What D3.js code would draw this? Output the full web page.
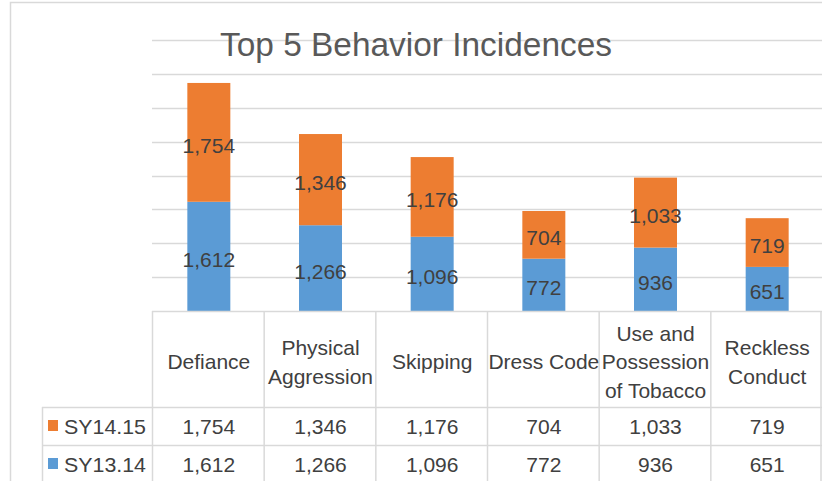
<!DOCTYPE html>
<html><head><meta charset="utf-8">
<script src="https://cdn.jsdelivr.net/npm/d3@7"></script>
<style>body{margin:0;background:#fff}svg{display:block}text{font-family:"Liberation Sans",Arial,sans-serif}</style>
</head><body>
<svg id="c" width="822" height="481"></svg>
<script>
const categoryLines = [["Defiance"],["Physical","Aggression"],["Skipping"],["Dress Code"],["Use and","Possession","of Tobacco"],["Reckless","Conduct"]];
const categories = categoryLines.map(l => l.join(" "));
const seriesNames = ["SY14.15","SY13.14"];
const sy1415 = [1754,1346,1176,704,1033,719];
const sy1314 = [1612,1266,1096,772,936,651];
const yTicks = [500,1000,1500,2000,2500,3000,3500,4000];
const colors = {"SY14.15":"#ED7D31","SY13.14":"#5B9BD5"};
const title = "Top 5 Behavior Incidences";

const svg = d3.select("#c");
const W = 822, H = 481;
const plot = {left:152, right:822, top:40, bottom:311};
const grid = "#d9d9d9", txt = "#404040";
const fmt = d3.format(",");

// outer border
svg.append("path").attr("d",`M10.5,${H} V2.5 H${W}`).attr("fill","none").attr("stroke",grid).attr("stroke-width",1.5);

const x = d3.scaleBand().domain(categories).range([plot.left, plot.right]).padding(0);
const y = d3.scaleLinear().domain([0,4000]).range([plot.bottom, plot.top]);

// gridlines
svg.append("g").selectAll("line").data(yTicks).join("line")
  .attr("x1",plot.left).attr("x2",plot.right)
  .attr("y1",d=>Math.round(y(d))+0.5).attr("y2",d=>Math.round(y(d))+0.5)
  .attr("stroke",grid).attr("stroke-width",1.5);

// title
svg.append("text").attr("x",416).attr("y",56).attr("text-anchor","middle")
  .attr("font-size",33).attr("fill","#595959").attr("textLength",392).attr("lengthAdjust","spacingAndGlyphs").text(title);

// stacked bars
const rows = categories.map((c,i)=>({cat:c, "SY13.14":sy1314[i], "SY14.15":sy1415[i]}));
const stack = d3.stack().keys(["SY13.14","SY14.15"])(rows);
const bw = x.bandwidth()*0.385;
const gBars = svg.append("g");
stack.forEach(layer=>{
  gBars.append("g").attr("fill",colors[layer.key]).selectAll("rect").data(layer).join("rect")
    .attr("x",d=>x(d.data.cat)+x.bandwidth()/2-bw/2+1)
    .attr("width",bw)
    .attr("y",d=>y(d[1]))
    .attr("height",d=>y(d[0])-y(d[1]));
  gBars.append("g").selectAll("text").data(layer).join("text")
    .attr("x",d=>x(d.data.cat)+x.bandwidth()/2+1)
    .attr("y",d=>(y(d[0])+y(d[1]))/2)
    .attr("dy","0.5em")
    .attr("text-anchor","middle").attr("font-size",21).attr("fill",txt)
    .text(d=>fmt(d.data[layer.key]));
});

// axis baseline
svg.append("line").attr("x1",plot.left).attr("x2",plot.right).attr("y1",plot.bottom+0.5).attr("y2",plot.bottom+0.5).attr("stroke",grid).attr("stroke-width",1.5);

// data table
const rowTop1 = 407, rowTop2 = 445, rowH = 38;
const tbl = svg.append("g");
const vx = categories.map(c=>x(c)).concat([plot.right-1.5]);
tbl.selectAll("line.v").data(vx).join("line").attr("class","v")
  .attr("x1",d=>d+0.5).attr("x2",d=>d+0.5).attr("y1",plot.bottom).attr("y2",H)
  .attr("stroke",grid).attr("stroke-width",1.5);
tbl.append("line").attr("x1",42.5).attr("x2",42.5).attr("y1",rowTop1).attr("y2",H).attr("stroke",grid).attr("stroke-width",1.5);
[rowTop1,rowTop2].forEach(yy=>{
  tbl.append("line").attr("x1",42).attr("x2",plot.right).attr("y1",yy+0.5).attr("y2",yy+0.5).attr("stroke",grid).attr("stroke-width",1.5);
});

// header
const headerCy = 361, lh = 28.8;
categoryLines.forEach((lines,i)=>{
  const cx = x(categories[i])+x.bandwidth()/2+1;
  const t = tbl.append("text").attr("text-anchor","middle").attr("font-size",21).attr("fill",txt);
  lines.forEach((ln,j)=>{
    t.append("tspan").attr("x",cx).attr("y",headerCy+(j-(lines.length-1)/2)*lh).attr("dy","0.4em").text(ln);
  });
});

// value rows
const tableRows = [{name:"SY14.15", vals:sy1415, top:rowTop1},{name:"SY13.14", vals:sy1314, top:rowTop2}];
tableRows.forEach(r=>{
  const cy = r.top + rowH/2;
  tbl.append("rect").attr("x",48).attr("y",cy-6).attr("width",10).attr("height",11).attr("fill",colors[r.name]);
  tbl.append("text").attr("x",64).attr("y",cy).attr("dy","0.4em").attr("font-size",21).attr("fill",txt)
    .attr("textLength",82).attr("lengthAdjust","spacingAndGlyphs").text(r.name);
  tbl.selectAll(null).data(r.vals).join("text")
    .attr("x",(d,i)=>x(categories[i])+x.bandwidth()/2+1)
    .attr("y",cy).attr("dy","0.4em").attr("text-anchor","middle").attr("font-size",21).attr("fill",txt)
    .text(d=>fmt(d));
});
</script>
</body></html>
